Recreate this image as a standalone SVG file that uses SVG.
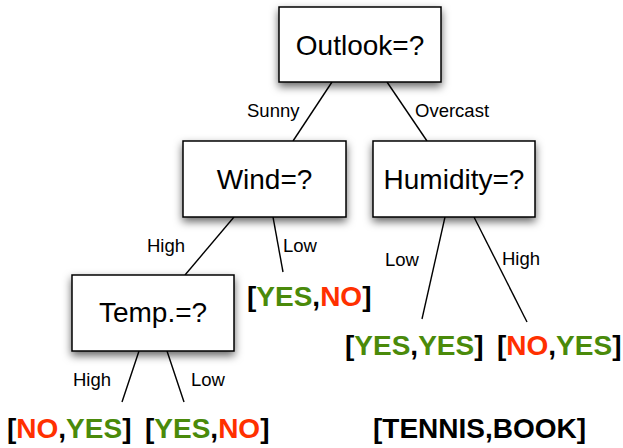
<svg xmlns="http://www.w3.org/2000/svg" width="623" height="448" viewBox="0 0 623 448">
  <style>
    .box { fill: #ffffff; stroke: #000000; stroke-width: 1.5; filter: url(#shadow); }
    .node { font-family: "Liberation Sans", Arial, sans-serif; font-size: 28px; fill: #000; text-anchor: middle; }
    .lbl { font-family: "Liberation Sans", Arial, sans-serif; font-size: 18.5px; fill: #000; }
    .leaf { font-family: "Liberation Sans", Arial, sans-serif; font-size: 28px; font-weight: bold; fill: #000; }
    .g { fill: #4a8a0a; }
    .r { fill: #ff3000; }
    .edge { stroke: #000; stroke-width: 1.4; fill: none; }
  </style>
  <defs>
    <filter id="shadow" x="-20%" y="-20%" width="140%" height="150%">
      <feDropShadow dx="0" dy="4" stdDeviation="4" flood-color="#000" flood-opacity="0.6"/>
    </filter>
  </defs>
  <rect width="623" height="448" fill="#ffffff"/>

  <g id="connectors">
    <line class="edge" x1="332" y1="82" x2="293" y2="141"/>
    <line class="edge" x1="387" y1="82" x2="427" y2="141"/>
    <line class="edge" x1="234" y1="217" x2="185" y2="275"/>
    <line class="edge" x1="273" y1="217" x2="283" y2="272"/>
    <line class="edge" x1="445" y1="217" x2="422" y2="319"/>
    <line class="edge" x1="474" y1="217" x2="527" y2="322"/>
    <line class="edge" x1="139" y1="351" x2="122" y2="402"/>
    <line class="edge" x1="167" y1="351" x2="184" y2="402"/>
    <text class="lbl" x="247" y="117">Sunny</text>
    <text class="lbl" x="415" y="117">Overcast</text>
    <text class="lbl" x="147" y="252">High</text>
    <text class="lbl" x="283" y="252">Low</text>
    <text class="lbl" x="385" y="266">Low</text>
    <text class="lbl" x="502" y="265">High</text>
    <text class="lbl" x="73" y="386">High</text>
    <text class="lbl" x="191" y="386">Low</text>
  </g>

  <g id="outlook">
    <rect class="box" x="279" y="7" width="162" height="75"/>
    <text class="node" x="360" y="55">Outlook=?</text>
  </g>
  <g id="wind">
    <rect class="box" x="183" y="141" width="163" height="76"/>
    <text class="node" x="264.5" y="189">Wind=?</text>
  </g>
  <g id="humidity">
    <rect class="box" x="373" y="141" width="162" height="76"/>
    <text class="node" x="454" y="189">Humidity=?</text>
  </g>
  <g id="temp">
    <rect class="box" x="72" y="275" width="162" height="76"/>
    <text class="node" x="153" y="322">Temp.=?</text>
  </g>

  <g id="leaf-wind-low">
    <text class="leaf" x="247" y="306">[<tspan class="g">YES</tspan>,<tspan class="r">NO</tspan>]</text>
  </g>
  <g id="leaf-hum-low">
    <text class="leaf" x="345" y="355">[<tspan class="g">YES</tspan>,<tspan class="g">YES</tspan>]</text>
  </g>
  <g id="leaf-hum-high">
    <text class="leaf" x="497" y="355">[<tspan class="r">NO</tspan>,<tspan class="g">YES</tspan>]</text>
  </g>
  <g id="leaf-temp-high">
    <text class="leaf" x="7" y="438">[<tspan class="r">NO</tspan>,<tspan class="g">YES</tspan>]</text>
  </g>
  <g id="leaf-temp-low">
    <text class="leaf" x="145" y="438">[<tspan class="g">YES</tspan>,<tspan class="r">NO</tspan>]</text>
  </g>
  <g id="legend">
    <text class="leaf" x="373" y="438">[TENNIS,BOOK]</text>
  </g>
</svg>
